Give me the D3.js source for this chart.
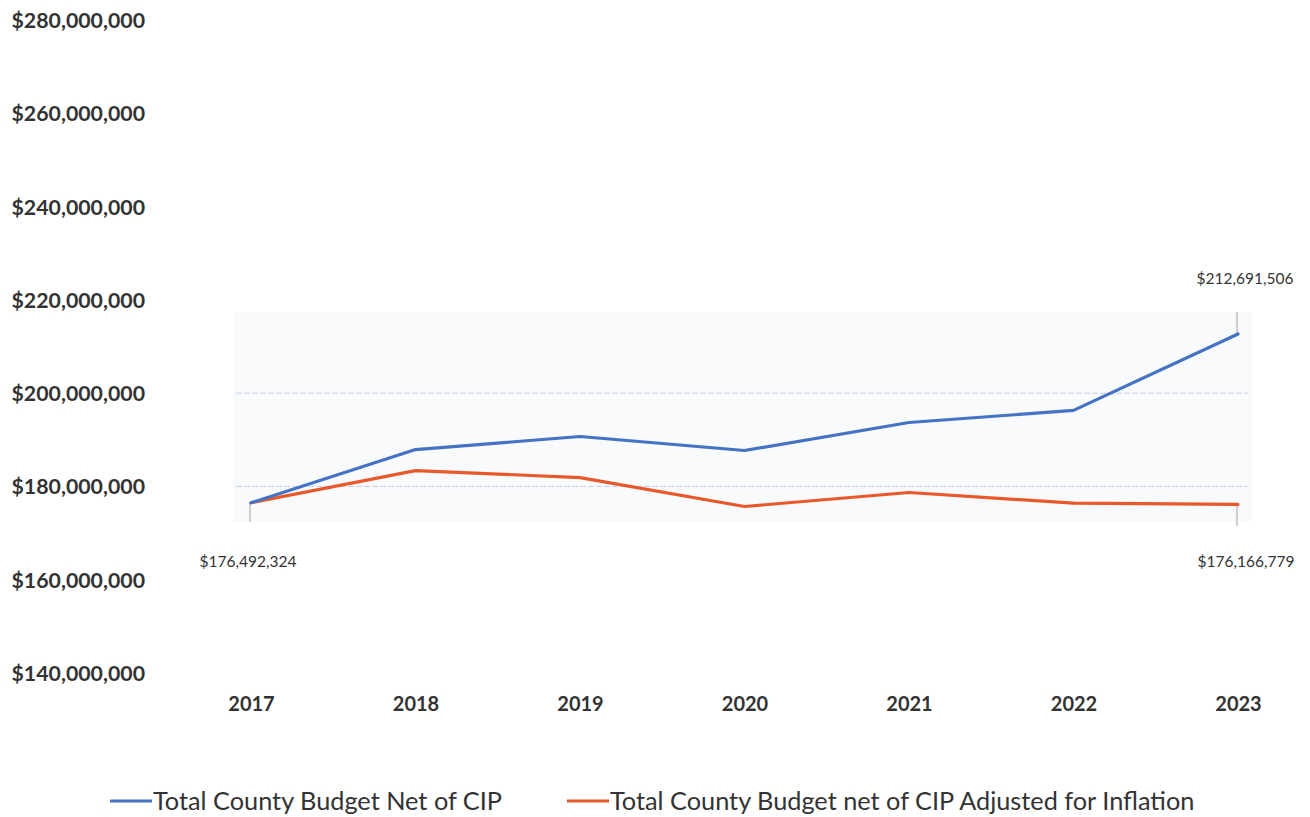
<!DOCTYPE html>
<html>
<head>
<meta charset="utf-8">
<script src="https://cdn.jsdelivr.net/npm/d3@7"></script>
<style>
  html, body { margin: 0; padding: 0; background: #fff; }
  svg { display: block; font-family: Lato, "Open Sans", sans-serif; }
</style>
</head>
<body>
<svg id="chart" width="1310" height="817"></svg>
<script>
// Budget figures by fiscal year
const years = ["2017", "2018", "2019", "2020", "2021", "2022", "2023"];
const budgetNet = [176492324, 187900000, 190700000, 187700000, 193700000, 196300000, 212691506];
const budgetAdjusted = [176492324, 183400000, 181900000, 175700000, 178700000, 176400000, 176166779];
const yTicks = [140000000, 160000000, 180000000, 200000000, 220000000, 240000000, 260000000, 280000000];
const seriesNames = ["Total County Budget Net of CIP", "Total County Budget net of CIP Adjusted for Inflation"];
const seriesColors = ["#4472c4", "#e8582a"];

const svg = d3.select("#chart");

const x = d3.scalePoint().domain(years).range([251, 1238]);
const y = d3.scaleLinear().domain([140000000, 280000000]).range([673, 20]);

const money = d => "$" + d3.format(",")(d);

// light plot panel behind the lines
svg.append("rect")
  .attr("x", 233).attr("y", 312)
  .attr("width", 1019).attr("height", 210)
  .attr("fill", "#f9fafc");

// faint gridlines inside the panel
svg.append("g").selectAll("line")
  .data([180000000, 200000000])
  .join("line")
  .attr("x1", 236).attr("x2", 1248)
  .attr("y1", d => y(d)).attr("y2", d => y(d))
  .attr("stroke", "#c5d0ef")
  .attr("stroke-width", 1)
  .attr("stroke-dasharray", "6 2");

// y axis labels
const yAxis = d3.axisLeft(y).tickValues(yTicks).tickFormat(money).tickSize(0).tickPadding(0);
const yg = svg.append("g").attr("transform", "translate(145,0)").call(yAxis);
yg.select(".domain").remove();
yg.selectAll("text")
  .attr("font-family", "Lato, sans-serif")
  .attr("font-size", 21.3)
  .attr("font-weight", "bold")
  .attr("fill", "#333")
  .attr("dy", "0.35em");

// x axis labels
const xAxis = d3.axisBottom(x).tickSize(0).tickPadding(0);
const xg = svg.append("g").attr("transform", "translate(0,704)").call(xAxis);
xg.select(".domain").remove();
xg.selectAll("text")
  .attr("font-family", "Lato, sans-serif")
  .attr("font-size", 20)
  .attr("font-weight", "bold")
  .attr("fill", "#333")
  .attr("dy", "0.35em");

// data label leader lines
const leaders = [
  { year: "2017", v: budgetAdjusted[0], to: 522 },
  { year: "2023", v: budgetNet[6], to: 312 },
  { year: "2023", v: budgetAdjusted[6], to: 526 }
];
svg.append("g").selectAll("line")
  .data(leaders)
  .join("line")
  .attr("x1", d => x(d.year) - 1).attr("x2", d => x(d.year) - 1)
  .attr("y1", d => y(d.v)).attr("y2", d => d.to)
  .attr("stroke", "#a0a0a0")
  .attr("stroke-width", 1);

// series lines (adjusted drawn first so the net line sits on top)
const line = d3.line().x((d, i) => x(years[i])).y(d => y(d));
[[budgetAdjusted, 1], [budgetNet, 0]].forEach(([vals, idx]) => {
  svg.append("path")
    .datum(vals)
    .attr("d", line)
    .attr("fill", "none")
    .attr("stroke", seriesColors[idx])
    .attr("stroke-width", 3.2)
    .attr("stroke-linejoin", "round")
    .attr("stroke-linecap", "round");
});

// value labels
const labels = [
  { text: money(budgetAdjusted[0]), x: 248, y: 562 },
  { text: money(budgetNet[6]), x: 1245, y: 279 },
  { text: money(budgetAdjusted[6]), x: 1246, y: 562 }
];
svg.append("g").selectAll("text")
  .data(labels)
  .join("text")
  .attr("x", d => d.x).attr("y", d => d.y)
  .attr("text-anchor", "middle")
  .attr("dy", "0.35em")
  .attr("font-family", "Lato, sans-serif")
  .attr("font-size", 15.5)
  .attr("fill", "#333")
  .text(d => d.text);

// legend
const legend = [
  { name: seriesNames[0], color: seriesColors[0], x: 110 },
  { name: seriesNames[1], color: seriesColors[1], x: 567 }
];
const lg = svg.append("g").selectAll("g").data(legend).join("g")
  .attr("transform", d => `translate(${d.x},801)`);
lg.append("line")
  .attr("x1", 0).attr("x2", 42).attr("y1", 0).attr("y2", 0)
  .attr("stroke", d => d.color).attr("stroke-width", 3.2);
lg.append("text")
  .attr("x", 43).attr("dy", "0.35em")
  .attr("font-family", "Lato, sans-serif")
  .attr("font-size", 25.3)
  .attr("fill", "#333")
  .text(d => d.name);
</script>
</body>
</html>
